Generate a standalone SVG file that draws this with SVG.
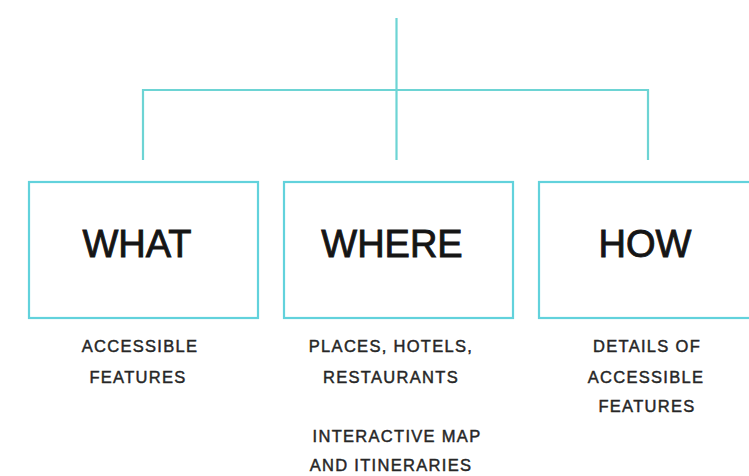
<svg xmlns="http://www.w3.org/2000/svg" width="749" height="476" viewBox="0 0 749 476">
  <style>
    .box { fill: #ffffff; stroke: #62d2dc; stroke-width: 2.2; }
    .link { fill: none; stroke: #6dd4d4; stroke-width: 2.2; }
    .title { font-family: "Liberation Sans", Arial, sans-serif; font-size: 38px; fill: #151515; stroke: #151515; stroke-width: 0.9; text-anchor: middle; }
    .sub { font-family: "Liberation Sans", Arial, sans-serif; font-size: 16.5px; fill: #262626; stroke: #262626; stroke-width: 0.45; letter-spacing: 1.3px; text-anchor: middle; }
  </style>
  <rect width="749" height="476" fill="#ffffff"/>

  <!-- tree connectors -->
  <g id="connectors">
    <line class="link" x1="396.5" y1="18" x2="396.5" y2="160"/>
    <polyline class="link" points="143,160 143,90 648,90 648,160"/>
  </g>

  <g id="node-what">
    <rect class="box" x="29" y="182" width="229" height="136"/>
    <text class="title" x="137" y="257">WHAT</text>
    <text class="sub" x="140" y="352">ACCESSIBLE</text>
    <text class="sub" x="138" y="383">FEATURES</text>
  </g>

  <g id="node-where">
    <rect class="box" x="284" y="182" width="229" height="136"/>
    <text class="title" x="392" y="257">WHERE</text>
    <text class="sub" x="391" y="352">PLACES, HOTELS,</text>
    <text class="sub" x="391" y="383">RESTAURANTS</text>
    <text class="sub" x="397" y="442">INTERACTIVE MAP</text>
    <text class="sub" x="391" y="471">AND ITINERARIES</text>
  </g>

  <g id="node-how">
    <rect class="box" x="539" y="182" width="229" height="136"/>
    <text class="title" x="645" y="257">HOW</text>
    <text class="sub" x="647" y="352">DETAILS OF</text>
    <text class="sub" x="646" y="383">ACCESSIBLE</text>
    <text class="sub" x="647" y="412">FEATURES</text>
  </g>
</svg>
